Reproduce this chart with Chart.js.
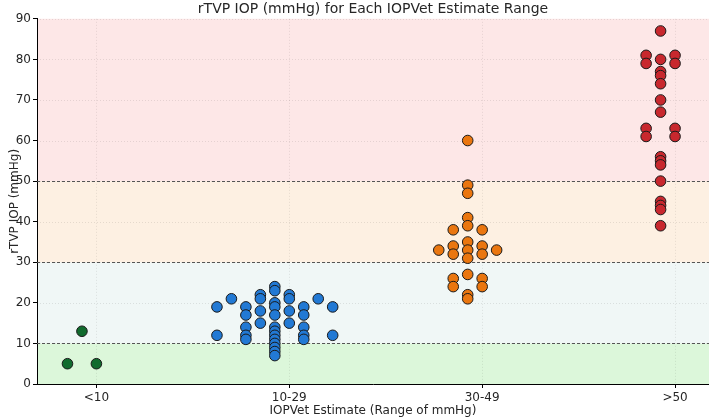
<!DOCTYPE html>
<html>
<head>
<meta charset="utf-8">
<script src="https://cdn.jsdelivr.net/npm/chart.js@4/dist/chart.umd.min.js"></script>
<style>
  html, body { margin: 0; padding: 0; background: #fff; }
  #wrap { width: 709px; height: 418px; }
</style>
</head>
<body>
<div id="wrap"><canvas id="grafico"></canvas></div>
<script>

// categories on the x axis
const categorias = ["<10", "10-29", "30-49", ">50"];

// y ticks
const ticksY = [0, 10, 20, 30, 40, 50, 60, 70, 80, 90];

// threshold bands (mmHg)
const faixas = [0, 10, 30, 50, 90];
const limites = [10, 30, 50];

// <10 group
const verdeX = [-0.15, -0.075, 0];
const verdeY = [5, 13, 5];

// 10-29 group
const azulX = [
  0.625, 0.625,
  0.7,
  0.775, 0.775, 0.775, 0.775, 0.775,
  0.85, 0.85, 0.85, 0.85,
  0.925, 0.925, 0.925, 0.925, 0.925, 0.925, 0.925, 0.925, 0.925, 0.925, 0.925, 0.925, 0.925,
  1.0, 1.0, 1.0, 1.0,
  1.075, 1.075, 1.075, 1.075, 1.075,
  1.15,
  1.225, 1.225
];
const azulY = [
  19, 12,
  21,
  19, 17, 14, 12, 11,
  22, 21, 18, 15,
  24, 23, 20, 19, 17, 14, 13, 12, 11, 10, 9, 8, 7,
  22, 21, 18, 15,
  19, 17, 14, 12, 11,
  21,
  19, 12
];

// 30-49 group
const laranjaX = [
  1.775,
  1.85, 1.85, 1.85, 1.85, 1.85,
  1.925, 1.925, 1.925, 1.925, 1.925, 1.925, 1.925, 1.925, 1.925, 1.925, 1.925,
  2.0, 2.0, 2.0, 2.0, 2.0,
  2.075
];
const laranjaY = [
  33,
  38, 34, 32, 26, 24,
  60, 49, 47, 41, 39, 35, 33, 31, 27, 22, 21,
  38, 34, 32, 26, 24,
  33
];

// >50 group
const vermelhoX = [
  2.85, 2.85, 2.85, 2.85,
  2.925, 2.925, 2.925, 2.925, 2.925, 2.925, 2.925, 2.925, 2.925, 2.925, 2.925, 2.925, 2.925, 2.925, 2.925,
  3.0, 3.0, 3.0, 3.0
];
const vermelhoY = [
  81, 79, 63, 61,
  87, 80, 77, 76, 74, 70, 67, 56, 55, 54, 50, 45, 44, 43, 39,
  81, 79, 63, 61
];

function pontos(xs, ys){
  return xs.map((x, i) => ({ x: x, y: ys[i] }));
}

const coresFaixa = ['#dcf7da', '#f0f7f6', '#fdf0e2', '#fde7e7'];

// background bands, light grid, dashed thresholds
const fundo = {
  id: 'fundo',
  beforeDraw(chart){
    const { ctx, chartArea: a, scales: { x, y } } = chart;
    ctx.save();
    for(let i = 0; i < faixas.length - 1; i++){
      const y1 = y.getPixelForValue(faixas[i + 1]);
      const y0 = y.getPixelForValue(faixas[i]);
      ctx.fillStyle = coresFaixa[i];
      ctx.fillRect(a.left, y1, a.right - a.left, y0 - y1);
    }
    ctx.strokeStyle = 'rgba(0,0,0,0.12)';
    ctx.lineWidth = 0.8;
    ctx.setLineDash([1, 2]);
    ticksY.forEach(v => {
      const py = Math.round(y.getPixelForValue(v)) + 0.5;
      ctx.beginPath();
      ctx.moveTo(a.left, py);
      ctx.lineTo(a.right, py);
      ctx.stroke();
    });
    categorias.forEach((c, i) => {
      const px = Math.round(x.getPixelForValue(i)) + 0.5;
      ctx.beginPath();
      ctx.moveTo(px, a.top);
      ctx.lineTo(px, a.bottom);
      ctx.stroke();
    });
    ctx.restore();
  },
  beforeDatasetsDraw(chart){
    const { ctx, chartArea: a, scales: { y } } = chart;
    ctx.save();
    ctx.strokeStyle = '#555';
    ctx.lineWidth = 1;
    ctx.setLineDash([3, 2]);
    limites.forEach(v => {
      const py = Math.round(y.getPixelForValue(v)) + 0.5;
      ctx.beginPath();
      ctx.moveTo(a.left, py);
      ctx.lineTo(a.right, py);
      ctx.stroke();
    });
    ctx.restore();
  }
};

function grupo(xs, ys, cor){
  return {
    data: pontos(xs, ys),
    backgroundColor: cor,
    borderColor: '#1a1a1a',
    borderWidth: 1,
    pointRadius: 5.3,
    pointHoverRadius: 5.3
  };
}

const fonte = 'DejaVu Sans';
const corTexto = '#262626';

new Chart(document.getElementById('grafico'), {
  type: 'scatter',
  data: {
    datasets: [
      grupo(verdeX, verdeY, '#116b2e'),
      grupo(azulX, azulY, '#2279d4'),
      grupo(laranjaX, laranjaY, '#ea760f'),
      grupo(vermelhoX, vermelhoY, '#c8282e')
    ]
  },
  options: {
    responsive: true,
    maintainAspectRatio: false,
    animation: false,
    layout: { padding: 0, autoPadding: false },
    plugins: {
      legend: { display: false },
      tooltip: { enabled: false },
      title: {
        display: true,
        fullSize: false,
        text: 'rTVP IOP (mmHg) for Each IOPVet Estimate Range',
        color: corTexto,
        font: { family: fonte, size: 14, weight: 'normal' },
        padding: { top: 1, bottom: 1 }
      }
    },
    scales: {
      x: {
        type: 'linear',
        min: -0.308,
        max: 3.176,
        afterBuildTicks: s => { s.ticks = categorias.map((c, i) => ({ value: i })); },
        afterFit: s => { s.height = 34; },
        ticks: {
          callback: v => categorias[v],
          color: corTexto,
          font: { family: fonte, size: 12 },
          padding: 3,
          maxRotation: 0
        },
        grid: { drawOnChartArea: false, tickLength: 4, tickColor: '#000' },
        border: { color: '#000', width: 1 },
        title: {
          display: true,
          text: 'IOPVet Estimate (Range of mmHg)',
          color: corTexto,
          font: { family: fonte, size: 12 },
          padding: { top: 0, bottom: 0 }
        }
      },
      y: {
        min: 0,
        max: 90,
        afterBuildTicks: s => { s.ticks = ticksY.map(v => ({ value: v })); },
        afterFit: s => { s.width = 37; },
        ticks: {
          color: corTexto,
          font: { family: fonte, size: 12 },
          padding: 2
        },
        grid: { drawOnChartArea: false, tickLength: 4, tickColor: '#000' },
        border: { color: '#000', width: 1 },
        title: {
          display: true,
          text: 'rTVP IOP (mmHg)',
          color: corTexto,
          font: { family: fonte, size: 12 },
          padding: { top: 8, bottom: 0 }
        }
      }
    }
  },
  plugins: [fundo]
});

</script>
</body>
</html>
